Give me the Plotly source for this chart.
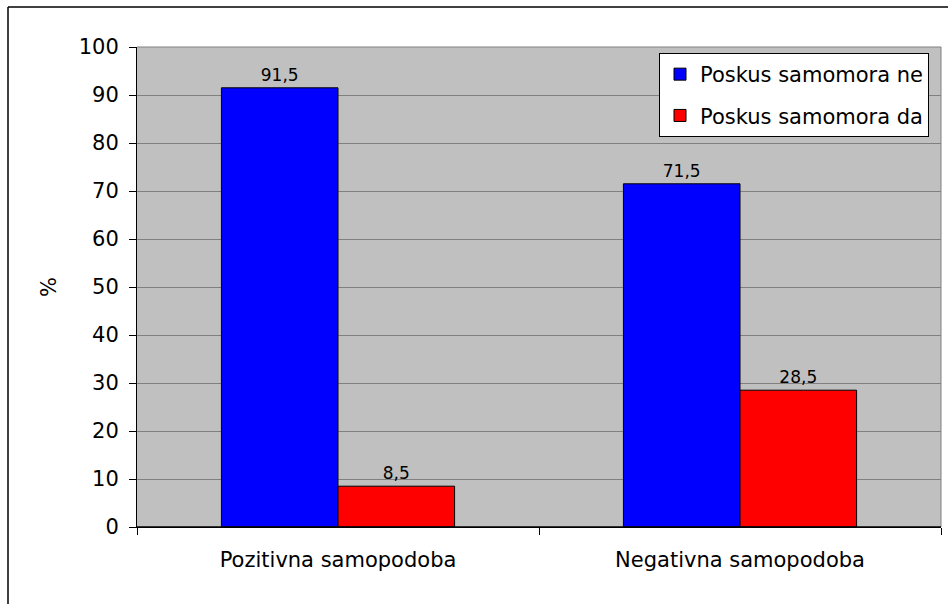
import plotly.graph_objects as go

categories = ["Pozitivna samopodoba", "Negativna samopodoba"]
series_names = ["Poskus samomora ne", "Poskus samomora da"]
values_ne = [91.5, 71.5]
values_da = [8.5, 28.5]
colors = ["#0000FF", "#FF0000"]
y_ticks = list(range(0, 101, 10))

W, H = 948, 604
L, T, R, B = 137, 47, 941, 527

FONT = "DejaVu Sans"

fig = go.Figure()
for i, (name, vals, col) in enumerate(zip(series_names, [values_ne, values_da], colors)):
    fig.add_trace(go.Bar(
        x=categories, y=vals, name=name, legendgroup=f"g{i}",
        marker=dict(color=col, line=dict(color="#000000", width=1)),
        texttemplate="%{y:.1f}", textposition="outside",
        textfont=dict(family=FONT, size=17, color="#000000"),
        cliponaxis=False,
    ))

def px_x(p):
    return (p - L) / (R - L)

def px_y(p):
    return (B - p) / (B - T)

fig.update_layout(
    width=W, height=H,
    margin=dict(l=L, r=W - R, t=T, b=H - B),
    paper_bgcolor="#FFFFFF",
    plot_bgcolor="#C0C0C0",
    separators=", ",
    barmode="group",
    bargap=0.42,
    bargroupgap=0,
    font=dict(family=FONT, color="#000000"),
    showlegend=True,
    legend=dict(
        x=px_x(659), y=px_y(53), xanchor="left", yanchor="top",
        bgcolor="#FFFFFF", bordercolor="#000000", borderwidth=1,
        font=dict(family=FONT, size=21, color="#000000"),
        tracegroupgap=11, itemwidth=30,
    ),
    xaxis=dict(
        showline=True, linecolor="#000000", linewidth=1,
        ticks="outside", ticklen=7, tickcolor="#000000",
        tickson="boundaries", ticklabelstandoff=14,
        tickfont=dict(family=FONT, size=21, color="#000000"),
        showgrid=False,
    ),
    yaxis=dict(
        range=[0, 100], tickvals=y_ticks,
        showline=True, linecolor="#000000", linewidth=1,
        ticks="outside", ticklen=7, tickcolor="#000000",
        ticklabelstandoff=6,
        tickfont=dict(family=FONT, size=21, color="#000000"),
        showgrid=True, gridcolor="#808080", gridwidth=1,
        zeroline=False,
        title=dict(text="%", font=dict(family=FONT, size=21, color="#000000"), standoff=16),
    ),
    shapes=[
        # plot area frame (top and right edges)
        dict(type="line", xref="paper", yref="paper", x0=0, x1=1, y0=1, y1=1,
             line=dict(color="#808080", width=1)),
        dict(type="line", xref="paper", yref="paper", x0=1, x1=1, y0=0, y1=1,
             line=dict(color="#808080", width=1)),
        # heavier baseline along the category axis
        dict(type="line", xref="paper", yref="paper", x0=0, x1=1, y0=0, y1=0,
             line=dict(color="#000000", width=1.5)),
        # outer chart border
        dict(type="line", xref="paper", yref="paper",
             x0=px_x(8), x1=px_x(8), y0=px_y(7), y1=px_y(610),
             line=dict(color="#000000", width=1.5)),
        dict(type="line", xref="paper", yref="paper",
             x0=px_x(8), x1=px_x(960), y0=px_y(7), y1=px_y(7),
             line=dict(color="#000000", width=1.5)),
    ],
)

fig.write_html("out.html")
